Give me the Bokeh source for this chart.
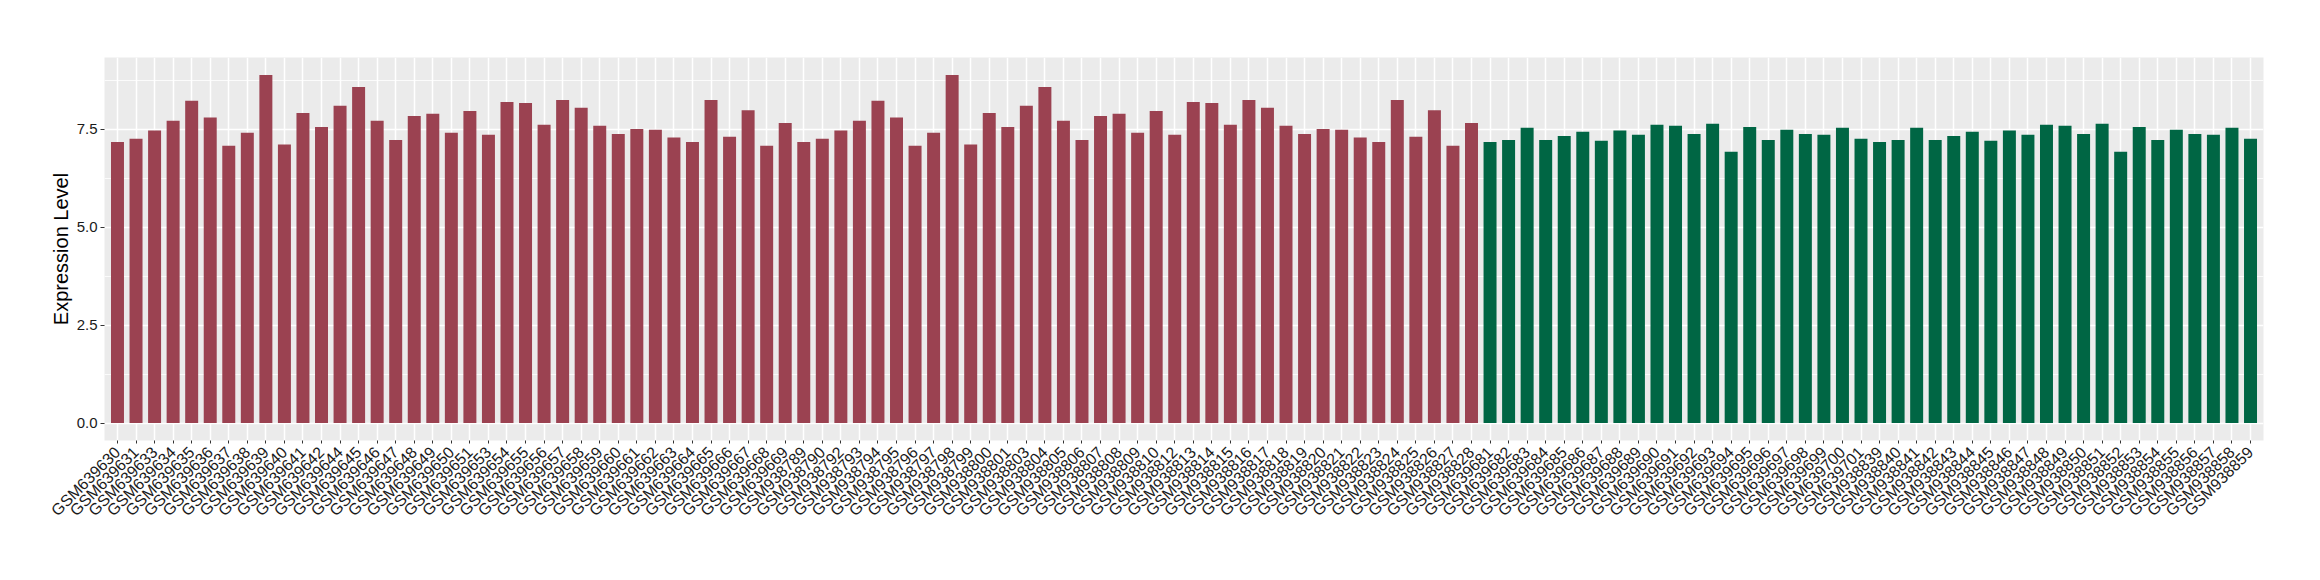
import math
from bokeh.plotting import figure
from bokeh.models import ColumnDataSource, FactorRange, Range1d, FixedTicker, NumeralTickFormatter
from bokeh.transform import factor_cmap
from bokeh.embed import file_html
from bokeh.resources import INLINE

# ---- data ----
samples_a1 = ["GSM639630", "GSM639631", "GSM639633", "GSM639634", "GSM639635", "GSM639636",
              "GSM639637", "GSM639638", "GSM639639", "GSM639640", "GSM639641", "GSM639642",
              "GSM639644", "GSM639645", "GSM639646", "GSM639647", "GSM639648", "GSM639649",
              "GSM639650", "GSM639651", "GSM639653", "GSM639654", "GSM639655", "GSM639656",
              "GSM639657", "GSM639658", "GSM639659", "GSM639660", "GSM639661", "GSM639662",
              "GSM639663", "GSM639664", "GSM639665", "GSM639666", "GSM639667", "GSM639668",
              "GSM639669"]
values_a1 = [7.18, 7.26, 7.47, 7.72, 8.23, 7.80, 7.08, 7.41, 8.89, 7.11, 7.92, 7.56,
             8.10, 8.58, 7.72, 7.23, 7.84, 7.90, 7.41, 7.97, 7.36, 8.20, 8.17, 7.62,
             8.25, 8.05, 7.59, 7.38, 7.51, 7.49, 7.29, 7.18, 8.25, 7.31, 7.99, 7.08,
             7.66]

samples_a2 = ["GSM938789", "GSM938790", "GSM938792", "GSM938793", "GSM938794", "GSM938795",
              "GSM938796", "GSM938797", "GSM938798", "GSM938799", "GSM938800", "GSM938801",
              "GSM938803", "GSM938804", "GSM938805", "GSM938806", "GSM938807", "GSM938808",
              "GSM938809", "GSM938810", "GSM938812", "GSM938813", "GSM938814", "GSM938815",
              "GSM938816", "GSM938817", "GSM938818", "GSM938819", "GSM938820", "GSM938821",
              "GSM938822", "GSM938823", "GSM938824", "GSM938825", "GSM938826", "GSM938827",
              "GSM938828"]
values_a2 = [7.18, 7.26, 7.47, 7.72, 8.23, 7.80, 7.08, 7.41, 8.89, 7.11, 7.92, 7.56,
             8.10, 8.58, 7.72, 7.23, 7.84, 7.90, 7.41, 7.97, 7.36, 8.20, 8.17, 7.62,
             8.25, 8.05, 7.59, 7.38, 7.51, 7.49, 7.29, 7.18, 8.25, 7.31, 7.99, 7.08,
             7.66]

samples_b1 = ["GSM639681", "GSM639682", "GSM639683", "GSM639684", "GSM639685", "GSM639686",
              "GSM639687", "GSM639688", "GSM639689", "GSM639690", "GSM639691", "GSM639692",
              "GSM639693", "GSM639694", "GSM639695", "GSM639696", "GSM639697", "GSM639698",
              "GSM639699", "GSM639700", "GSM639701"]
values_b1 = [7.18, 7.23, 7.54, 7.23, 7.33, 7.44, 7.21, 7.47, 7.36, 7.62, 7.59, 7.38,
             7.64, 6.93, 7.56, 7.23, 7.49, 7.38, 7.36, 7.54, 7.26]

samples_b2 = ["GSM938839", "GSM938840", "GSM938841", "GSM938842", "GSM938843", "GSM938844",
              "GSM938845", "GSM938846", "GSM938847", "GSM938848", "GSM938849", "GSM938850",
              "GSM938851", "GSM938852", "GSM938853", "GSM938854", "GSM938855", "GSM938856",
              "GSM938857", "GSM938858", "GSM938859"]
values_b2 = [7.18, 7.23, 7.54, 7.23, 7.33, 7.44, 7.21, 7.47, 7.36, 7.62, 7.59, 7.38,
             7.64, 6.93, 7.56, 7.23, 7.49, 7.38, 7.36, 7.54, 7.26]

group_names = ["A", "B"]
group_colors = ["#9B4251", "#006644"]
y_ticks = [0, 2.5, 5, 7.5]
y_minor_ticks = [1.25, 3.75, 6.25, 8.75]
y_title = "Expression Level"

# ---- build ----
names = samples_a1 + samples_a2 + samples_b1 + samples_b2
vals = values_a1 + values_a2 + values_b1 + values_b2
groups = (["A"] * (len(samples_a1) + len(samples_a2))
          + ["B"] * (len(samples_b1) + len(samples_b2)))

source = ColumnDataSource(dict(name=names, value=vals, group=groups))

vmax = max(vals)
p = figure(
    width=2320, height=580,
    x_range=FactorRange(factors=names, range_padding=0.2, range_padding_units="absolute"),
    y_range=Range1d(-0.05 * vmax, 1.05 * vmax),
    output_backend="svg", toolbar_location=None,
    min_border_left=104, min_border_right=57, min_border_top=57, min_border_bottom=140,
)

p.vbar(x="name", top="value", bottom=0, width=0.7, source=source, line_color=None,
       fill_color=factor_cmap("group", palette=group_colors, factors=group_names))

p.background_fill_color = "#EBEBEB"
p.border_fill_color = "white"
p.outline_line_color = None

# grids
p.xgrid.grid_line_color = "white"
p.xgrid.grid_line_width = 1.5
ticker = FixedTicker(ticks=y_ticks, minor_ticks=y_minor_ticks)
p.yaxis.ticker = ticker
p.ygrid.ticker = ticker
p.ygrid.grid_line_color = "white"
p.ygrid.grid_line_width = 1.5
p.ygrid.minor_grid_line_color = "white"
p.ygrid.minor_grid_line_width = 0.8

# axes
for ax in (p.xaxis[0], p.yaxis[0]):
    ax.axis_line_color = None
    ax.major_tick_line_color = "#333333"
    ax.major_tick_line_width = 1
    ax.minor_tick_line_color = None
    ax.major_tick_in = 0
    ax.major_label_text_font = "Liberation Sans"
    ax.major_label_text_color = "#1a1a1a"

p.xaxis.major_label_text_font_size = "16px"
p.xaxis.major_tick_out = 3
p.xaxis.major_label_orientation = math.pi / 4
p.xaxis.major_label_standoff = 6

p.yaxis.major_label_text_font_size = "15px"
p.yaxis.major_tick_out = 4
p.yaxis.major_label_standoff = 3
p.yaxis.formatter = NumeralTickFormatter(format="0.0")
p.yaxis.axis_label = y_title
p.yaxis.axis_label_text_font = "Liberation Sans"
p.yaxis.axis_label_text_font_size = "20px"
p.yaxis.axis_label_text_font_style = "normal"
p.yaxis.axis_label_text_color = "black"
p.yaxis.axis_label_standoff = 2

open("out.html", "w").write(file_html(p, INLINE))
